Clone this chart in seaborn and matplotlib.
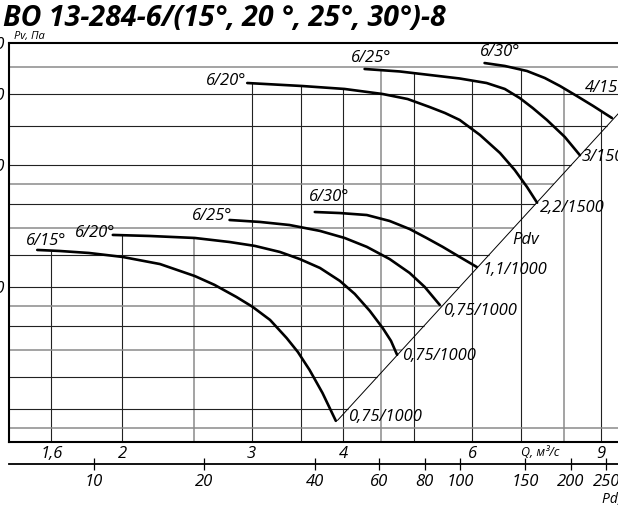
import numpy as np
import pandas as pd
import seaborn as sns
import matplotlib.pyplot as plt

sns.set_theme(style='white')
plt.rcParams['font.family'] = ['Open Sans', 'DejaVu Sans']
plt.rcParams['font.style'] = 'italic'
plt.rcParams.update({'text.color': 'black', 'xtick.color': 'black',
                     'ytick.color': 'black', 'axes.edgecolor': 'black'})

# fan curves, Q in m3/s, Pv in Pa
q_615 = [1.53, 1.64, 1.80, 2.0, 2.25, 2.51, 2.67, 2.86, 3.01, 3.18, 3.35, 3.47, 3.6, 3.75, 3.91]
pv_615 = [123.5, 122.8, 121.4, 118.7, 114.0, 106.5, 101.3, 94.6, 89.4, 83.0, 74.9, 69.2, 62.5, 54.8, 46.8]

q_620a = [1.94, 2.18, 2.51, 2.8, 3.03, 3.28, 3.49, 3.72, 3.96, 4.15, 4.35, 4.53, 4.65, 4.74]
pv_620a = [134.5, 133.7, 132.2, 129.2, 126.4, 122.1, 117.3, 111.5, 103.6, 96.2, 87.4, 79.3, 73.7, 68.1]

q_625a = [2.8, 3.08, 3.38, 3.72, 4.02, 4.31, 4.63, 4.93, 5.17, 5.42]
pv_625a = [146.4, 144.8, 142.3, 137.6, 132.2, 125.7, 117.3, 108.4, 100.1, 90.4]

q_630a = [3.66, 3.96, 4.31, 4.63, 4.93, 5.2, 5.47, 5.77, 6.09]
pv_630a = [153.2, 152.3, 150.6, 145.6, 139.1, 132.2, 125.7, 118.7, 112.1]

q_620b = [2.96, 3.52, 4.02, 4.53, 4.9, 5.25, 5.51, 5.77, 6.15, 6.55, 6.86, 7.13, 7.36]
pv_620b = [318.7, 313.3, 308.1, 299.4, 291.0, 278.1, 268.8, 258.4, 237.3, 214.2, 194.5, 176.6, 161.5]

q_625b = [4.28, 4.78, 5.25, 5.77, 6.28, 6.65, 6.97, 7.26, 7.59, 8.03, 8.42]
pv_625b = [345.1, 340.3, 333.6, 327.0, 318.7, 308.1, 292.6, 276.5, 258.4, 234.6, 211.5]

q_630b = [6.24, 6.65, 7.13, 7.54, 7.91, 8.34, 8.78, 9.31]
pv_630b = [357.0, 351.1, 341.2, 327.9, 313.3, 296.0, 279.7, 261.3]

curve_names = ['615', '620a', '625a', '630a', '620b', '625b', '630b']
curve_q = [q_615, q_620a, q_625a, q_630a, q_620b, q_625b, q_630b]
curve_pv = [pv_615, pv_620a, pv_625a, pv_630a, pv_620b, pv_625b, pv_630b]
start_labels = ['6/15°', '6/20°', '6/25°', '6/30°', '6/20°', '6/25°', '6/30°']
end_labels = ['0,75/1000', '0,75/1000', '0,75/1000', '1,1/1000',
              '2,2/1500', '3/1500', '4/1500']

# dynamic pressure line Pdv
diag_q = [3.93, 10.17]
diag_pv = [46.9, 306.5]

q_ticks = [1.6, 2, 3, 4, 6, 9]
q_labels = ['1,6', '2', '3', '4', '6', '9']
pv_ticks = [100, 200, 300, 400]
pd_ticks = [10, 20, 40, 60, 80, 100, 150, 200, 250]
pd_k = 2.99

grid_q_dark = [1.6, 2, 3, 3.5, 4, 5, 6, 7, 9]
grid_q_light = [2.5, 4.5, 8]
grid_p_dark = [300, 250, 200, 160, 120, 100, 80, 60, 50]
grid_p_light = [350, 180, 140, 90, 70, 45]

xlim = (1.4, 10.17)
ylim = (41.5, 400)

df = pd.concat([pd.DataFrame({'Q': q, 'Pv': p, 'curve': n})
                for n, q, p in zip(curve_names, curve_q, curve_pv)])

fig = plt.figure(figsize=(6.18, 5.08), dpi=100)
ax = fig.add_axes([9 / 618, 66 / 508, 631 / 618, 399 / 508])
ax.set_xscale('log')
ax.set_yscale('log')
ax.set_xlim(*xlim)
ax.set_ylim(*ylim)


def top_at(q):
    vals = [np.interp(np.log(q), np.log(cq), np.log(cp))
            for cq, cp in zip(curve_q, curve_pv) if cq[0] <= q <= cq[-1]]
    return np.exp(max(vals)) if vals else ylim[1]


def right_at(p):
    if p < diag_pv[0]:
        return xlim[1]
    return np.exp(np.interp(np.log(p), np.log(diag_pv), np.log(diag_q)))


for gq, col, lw in [(grid_q_dark, '#222222', 0.8), (grid_q_light, '#8a8a8a', 1.1)]:
    ax.vlines(gq, ylim[0], [top_at(q) for q in gq], color=col, lw=lw, zorder=1)
for gp, col, lw in [(grid_p_dark, '#222222', 0.8), (grid_p_light, '#8a8a8a', 1.1)]:
    ax.hlines(gp, xlim[0], [right_at(p) for p in gp], color=col, lw=lw, zorder=1)

sns.lineplot(data=df, x='Q', y='Pv', units='curve', estimator=None, sort=False,
             color='black', lw=1.9, ax=ax, zorder=3)
ax.plot(diag_q, diag_pv, color='black', lw=0.7, zorder=2)

start_off = [(9, 9), (-18, 2), (-17, 4), (14, 15), (-21, 2), (7, 11), (16, 11)]
end_off = [(12, 4), (5, -1), (3, -6), (6, -3), (3, -5), (2, -2), (-27, 30)]
for i in range(len(curve_q)):
    ax.annotate(start_labels[i], (curve_q[i][0], curve_pv[i][0]),
                xytext=start_off[i], textcoords='offset pixels',
                ha='center', va='center', fontsize=12)
    ax.annotate(end_labels[i], (curve_q[i][-1], curve_pv[i][-1]),
                xytext=end_off[i], textcoords='offset pixels',
                ha='left', va='center', fontsize=12)
ax.text(7.1, 131, 'Pdv', ha='center', va='center', fontsize=12)

ax.minorticks_off()
ax.set_xticks(q_ticks, q_labels)
ax.set_yticks(pv_ticks, [str(v) for v in pv_ticks])
ax.minorticks_off()
ax.tick_params(axis='both', length=0, pad=3, labelsize=12)
ax.set_xlabel('')
ax.set_ylabel('')
ax.spines['right'].set_visible(False)
for s in ['top', 'left', 'bottom']:
    ax.spines[s].set_linewidth(1.5)

sec = ax.secondary_xaxis(-0.055, functions=(lambda q: pd_k * q ** 2,
                                            lambda p: np.sqrt(np.maximum(p, 0) / pd_k)))
sec.set_xticks(pd_ticks, [str(v) for v in pd_ticks])
sec.minorticks_off()
sec.tick_params(direction='inout', length=8, width=0.9, labelsize=12, pad=3)
sec.spines['bottom'].set_linewidth(1.3)

fig.text(3 / 618, 1 - 26 / 508, 'ВО 13-284-6/(15°, 20 °, 25°, 30°)-8',
         fontsize=20.5, fontweight='bold', va='baseline')
fig.text(14 / 618, 1 - 39 / 508, 'Pv, Па', fontsize=8, va='baseline')
fig.text(540 / 618, 1 - 452 / 508, 'Q, м³/с', fontsize=9, ha='center', va='center')
fig.text(602 / 618, 1 - 503 / 508, 'Pd, Па', fontsize=10, va='baseline')

fig.savefig('out.png', dpi=100)
